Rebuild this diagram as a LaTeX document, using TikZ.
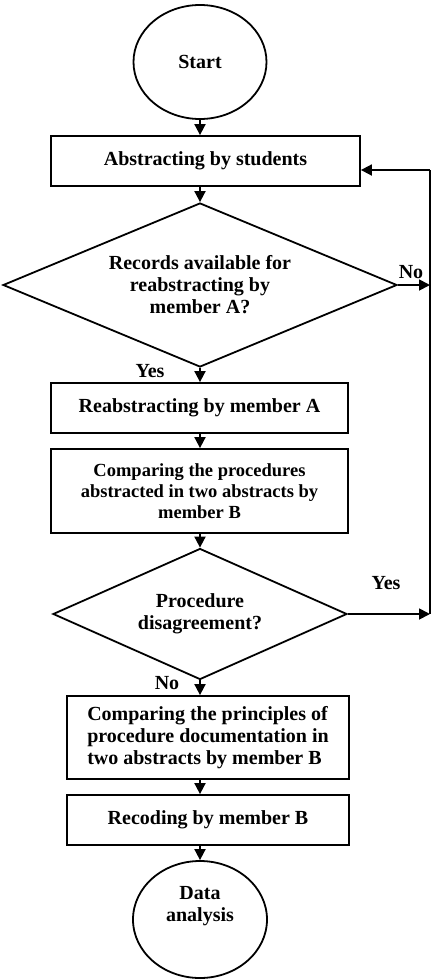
\documentclass[tikz,border=0pt]{standalone}
\usepackage{fontspec}
\setmainfont{Liberation Serif}
\usetikzlibrary{shapes.geometric,arrows.meta}
\tikzstyle{terminal} = [ellipse, draw=black, line width=1.8pt, inner sep=0pt, align=center]
\tikzstyle{process} = [rectangle, draw=black, line width=1.8pt, inner sep=0pt, align=center]
\tikzstyle{decision} = [diamond, draw=black, line width=1.8pt, inner sep=0pt, align=center]
\tikzstyle{arrow} = [line width=1.8pt, -{Triangle[length=11pt,width=11pt]}]
\tikzstyle{answer} = [inner sep=0pt]

\begin{document}
\begin{tikzpicture}[x=1pt, y=-1pt, font=\bfseries\fontsize{20}{22}\selectfont]%
			\useasboundingbox (0,0) rectangle (435,980);%
			\node [terminal, minimum width=133pt, minimum height=114pt] (start) at (200,62) {Start};%
			\node [process, minimum width=309pt, minimum height=50pt] (abs) at (205.5,161) {Abstracting by students};%
			\node [decision, aspect=2.4, minimum width=394pt, minimum height=164pt] (avail) at (200,285) {Records available for\\reabstracting by\\member A?};%
			\node [process, minimum width=297pt, minimum height=50pt] (reabs) at (199.5,408) {Reabstracting by member A};%
			\node [process, minimum width=297pt, minimum height=84pt, font=\bfseries\fontsize{18.5}{21}\selectfont] (cmpproc) at (199.5,491) {Comparing the procedures\\abstracted in two abstracts by\\member B};%
			\node [decision, aspect=2.24, minimum width=294pt, minimum height=131pt] (disagree) at (200,614) {Procedure\\disagreement?};%
			\node [process, minimum width=282pt, minimum height=83pt, align=left] (cmpprinc) at (208,737.5) {Comparing the principles of\\procedure documentation in\\two abstracts by member B};%
			\node [process, minimum width=282pt, minimum height=50pt] (recode) at (208,820) {Recoding by member B};%
			\node [terminal, minimum width=134pt, minimum height=117pt] (data) at (200,919.5) {Data\\analysis\\[10pt]};%
			% yes / no labels
			\node [answer] (no1) at (411,272) {No};%
			\node [answer] (yes1) at (150,371) {Yes};%
			\node [answer] (yes2) at (386,583) {Yes};%
			\node [answer] (no2) at (167,683) {No};%
			% return line on the right
			\coordinate (loopt) at (430,170);%
			\coordinate (loopb) at (430,614);%
			\draw [arrow] (start) -- (start.south |- abs.north);%
			\draw [arrow] (avail.north |- abs.south) -- (avail.north);%
			\draw [arrow] (avail.south) -- (avail.south |- reabs.north);%
			\draw [arrow] (avail.south |- reabs.south) -- (avail.south |- cmpproc.north);%
			\draw [arrow] (disagree.north |- cmpproc.south) -- (disagree.north);%
			\draw [arrow] (disagree.south) -- (disagree.south |- cmpprinc.north);%
			\draw [arrow] (disagree.south |- cmpprinc.south) -- (disagree.south |- recode.north);%
			\draw [arrow] (disagree.south |- recode.south) -- (data.north);%
			\draw [arrow] (avail.east) -- (loopt |- avail.east);%
			\draw [arrow] (disagree.east) -- (loopb);%
			\draw [line width=1.8pt] (loopb) -- (loopt);%
			\draw [arrow] (loopt) -- (abs.east |- loopt);%
		\end{tikzpicture}
\end{document}
